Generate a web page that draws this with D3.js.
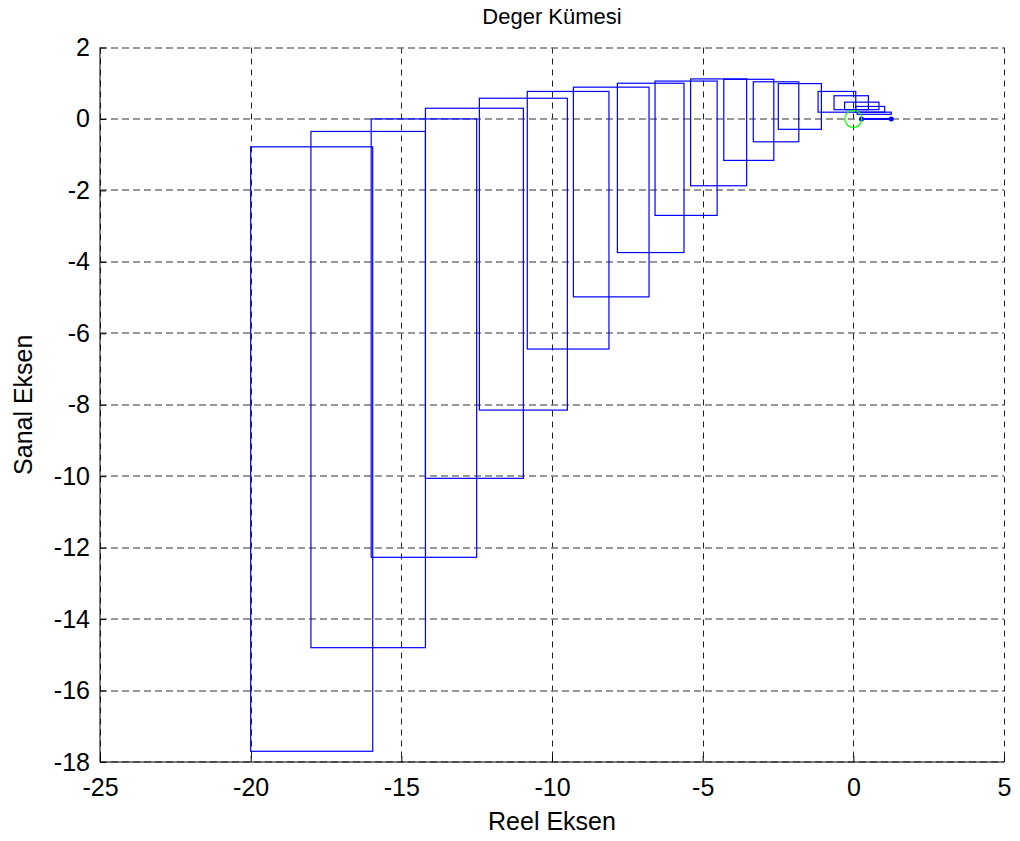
<!DOCTYPE html>
<html>
<head>
<meta charset="utf-8">
<script src="https://cdn.jsdelivr.net/npm/d3@7"></script>
<style>
    body { margin: 0; background: #fff; }
    svg { font-family: "Liberation Sans", Arial, sans-serif; }
</style>
</head>
<body>
<svg id="chart" width="1020" height="841"></svg>
<script>
// value set rectangles, big (high freq) to small (low freq)
const rectLeft   = [-20.0, -18.0, -16.0, -14.2, -12.41, -10.82, -9.29, -7.83, -6.58, -5.40, -4.30, -3.32, -2.49, -1.17, -0.64, -0.29, 0.08, 0.13];
const rectRight  = [-15.95, -14.2, -12.5, -10.95, -9.49, -8.11, -6.78, -5.62, -4.52, -3.54, -2.64, -1.81, -1.06, 0.08, 0.50, 0.85, 1.04, 1.26];
const rectTop    = [-0.78, -0.35, 0.0, 0.30, 0.58, 0.77, 0.89, 1.0, 1.06, 1.12, 1.11, 1.04, 0.99, 0.77, 0.65, 0.47, 0.35, 0.19];
const rectBottom = [-17.7, -14.8, -12.27, -10.06, -8.15, -6.44, -4.98, -3.74, -2.70, -1.87, -1.16, -0.64, -0.29, 0.19, 0.26, 0.26, 0.19, 0.13];

// w = 0 : value set is a segment on the real axis
const segmentX = [0.27, 1.26];
const segmentY = [0, 0];

const xTicks = [-25, -20, -15, -10, -5, 0, 5];
const yTicks = [-18, -16, -14, -12, -10, -8, -6, -4, -2, 0, 2];

const svg = d3.select("#chart");
const x = d3.scaleLinear().domain([-25, 5]).range([100, 1004]);
const y = d3.scaleLinear().domain([-18, 2]).range([762, 47.5]);

// grid
let grid = svg.append("g");
grid.selectAll(".vg").data(xTicks).enter().append("line")
    .attr("x1", d => Math.round(x(d)) + 0.5).attr("x2", d => Math.round(x(d)) + 0.5)
    .attr("y1", y(2)).attr("y2", y(-18))
    .attr("stroke", "#222").attr("stroke-dasharray", "6,5");
grid.selectAll(".hg").data(yTicks).enter().append("line")
    .attr("y1", d => Math.round(y(d))).attr("y2", d => Math.round(y(d)))
    .attr("x1", x(-25)).attr("x2", x(5))
    .attr("stroke", "#777").attr("stroke-width", 1.3).attr("stroke-dasharray", "7,4");

// axes
let xAxis = d3.axisBottom(x).tickValues(xTicks).tickSize(-6).tickPadding(16).tickFormat(d => String(d));
let yAxis = d3.axisLeft(y).tickValues(yTicks).tickSize(-6).tickPadding(10).tickFormat(d => String(d));
let gx = svg.append("g").attr("transform", `translate(0,${y(-18)})`).call(xAxis);
let gy = svg.append("g").attr("transform", `translate(${x(-25)},0)`).call(yAxis);
for (const g of [gx, gy]) {
    g.select(".domain").remove();
    g.selectAll("text").attr("font-size", 25).attr("fill", "#000")
        .attr("font-family", "'Liberation Sans', Arial, sans-serif");
    g.selectAll("line").attr("stroke", "#000");
}
svg.append("line").attr("x1", x(-25)).attr("x2", x(5)).attr("y1", y(-18)).attr("y2", y(-18)).attr("stroke", "#000");
svg.append("line").attr("x1", x(-25)).attr("x2", x(-25)).attr("y1", y(2)).attr("y2", y(-18)).attr("stroke", "#000");

// rectangles
let rects = rectLeft.map((l, i) => ({l: l, r: rectRight[i], t: rectTop[i], b: rectBottom[i]}));
svg.append("g").selectAll("rect").data(rects).enter().append("rect")
    .attr("x", d => x(d.l)).attr("y", d => y(d.t))
    .attr("width", d => x(d.r) - x(d.l)).attr("height", d => y(d.b) - y(d.t))
    .attr("fill", "none").attr("stroke", "#0000ff").attr("stroke-width", 1.2);

// segment at w = 0
let seg = segmentX.map((v, i) => [v, segmentY[i]]);
svg.append("path").datum(seg)
    .attr("d", d3.line().x(d => x(d[0])).y(d => y(d[1])))
    .attr("stroke", "#0000ff").attr("stroke-width", 2).attr("fill", "none");
svg.append("g").selectAll("circle").data(seg).enter().append("circle")
    .attr("cx", d => x(d[0])).attr("cy", d => y(d[1])).attr("r", 2.5).attr("fill", "#0000ff");

// origin marker
svg.append("circle").attr("cx", x(0)).attr("cy", y(0)).attr("r", 8.5)
    .attr("fill", "none").attr("stroke", "#00ff00").attr("stroke-width", 1.2);

// labels
svg.append("text").attr("x", (x(-25) + x(5)) / 2).attr("y", 24).attr("text-anchor", "middle")
    .attr("font-size", 22).text("Deger Kümesi");
svg.append("text").attr("x", (x(-25) + x(5)) / 2).attr("y", 830).attr("text-anchor", "middle")
    .attr("font-size", 25).text("Reel Eksen");
svg.append("text").attr("transform", `translate(32,${(y(2) + y(-18)) / 2}) rotate(-90)`)
    .attr("text-anchor", "middle").attr("font-size", 25).text("Sanal Eksen");
</script>
</body>
</html>
